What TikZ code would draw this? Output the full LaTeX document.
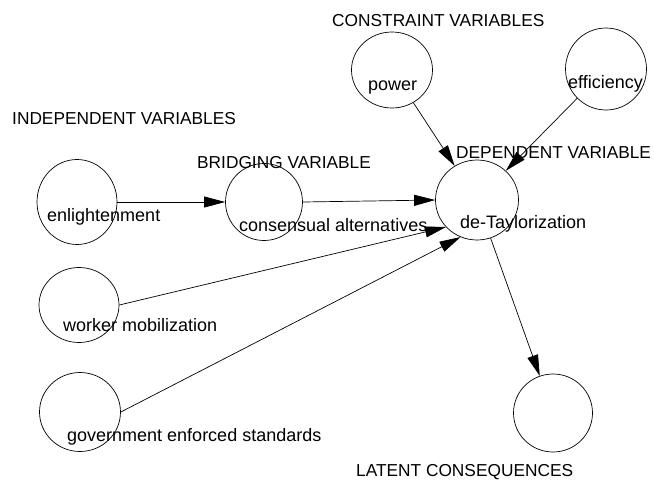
\documentclass[tikz,border=0pt]{standalone}
\usepackage{fontspec}
\setmainfont{Liberation Sans}
\usetikzlibrary{shapes.geometric,arrows.meta}
\begin{document}
\begin{tikzpicture}[x=1pt,y=-1pt,
  varcircle/.style={draw, ellipse, inner sep=0pt, line width=0.7pt},
  heading/.style={anchor=base west, inner sep=0pt, font=\fontsize{17.3}{20}\selectfont},
  lbl/.style={anchor=base west, inner sep=0pt, font=\fontsize{18}{21}\selectfont},
  link/.style={line width=0.7pt, -{Triangle[length=21pt,width=11pt]}},
  plain/.style={line width=0.7pt}]
\useasboundingbox (0,0) rectangle (654,480);
\fill[white] (0,0) rectangle (654,480);
% circles
\node[varcircle, minimum width=80pt, minimum height=85pt] (enl) at (77,202) {};
\node[varcircle, minimum width=77pt, minimum height=77pt] (cons) at (264,202) {};
\node[varcircle, minimum width=83pt, minimum height=80pt] (det) at (477,200) {};
\node[varcircle, minimum width=81pt, minimum height=76pt] (power) at (392,70) {};
\node[varcircle, minimum width=81pt, minimum height=82pt] (eff) at (606,69) {};
\node[varcircle, minimum width=80pt, minimum height=75pt] (work) at (79,305) {};
\node[varcircle, minimum width=81pt, minimum height=79pt] (gov) at (80,412) {};
\node[varcircle, minimum width=79pt, minimum height=78pt] (lat) at (553,413) {};
% headings
\node[heading] (hind) at (12,124) {INDEPENDENT VARIABLES};
\node[heading] (hbri) at (197,168) {BRIDGING VARIABLE};
\node[heading] (hcon) at (332,26) {CONSTRAINT VARIABLES};
\node[heading] (hdep) at (456,158) {DEPENDENT VARIABLE};
\node[heading] (hlat) at (356,476) {LATENT CONSEQUENCES};
% labels
\node[lbl] (lenl) at (47,221) {enlightenment};
\node[lbl] (lcons) at (239,231) {consensual alternatives};
\node[lbl] (ldet) at (460,228) {de-Taylorization};
\node[lbl] (lpow) at (368,90) {power};
\node[lbl] (leff) at (568,88) {efficiency};
\node[lbl] (lwork) at (63,331) {worker mobilization};
\node[lbl] (lgov) at (67,441) {government enforced standards};
% connectors
\draw[link] (enl.east) -- (cons.west);
\draw[link] (cons.east) -- (det.west);
\draw[link] (power) -- (det);
\draw[link] (eff) -- (det);
\draw[link] (work.east) -- (det.221);
\draw[link] (gov.east) -- (det.246);
\draw[link] (det) -- (lat);
\end{tikzpicture}
\end{document}
